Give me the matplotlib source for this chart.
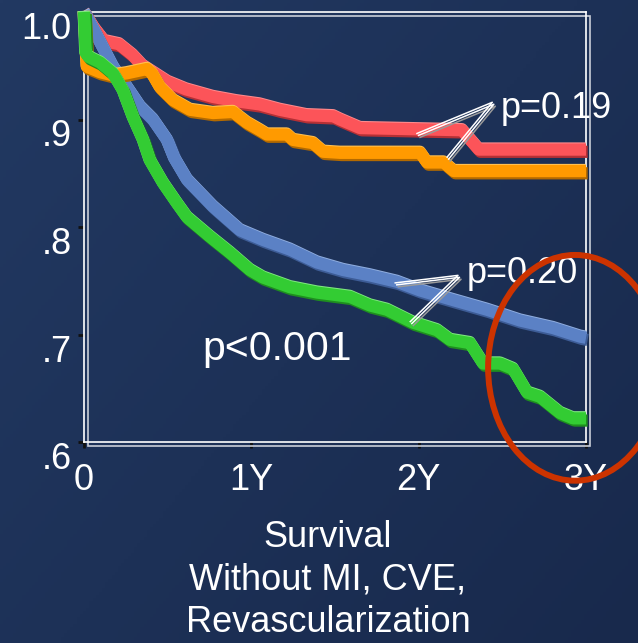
import matplotlib
matplotlib.use('Agg')
import matplotlib.pyplot as plt
import matplotlib.patheffects as pe
import matplotlib.transforms as mtrans
from matplotlib.patches import Ellipse, Rectangle
import numpy as np

plt.rcParams['font.family'] = ['Liberation Sans', 'DejaVu Sans']

# survival curves (years, fraction event free)
red_t = [0, 0.06, 0.12, 0.21, 0.29, 0.35, 0.50, 0.61, 0.77, 0.91, 1.05, 1.17, 1.33, 1.49, 1.53, 1.65, 2.26, 2.36, 3.0]
red_s = [1.0, 0.985, 0.973, 0.970, 0.960, 0.950, 0.935, 0.928, 0.921, 0.917, 0.914, 0.909, 0.904, 0.903, 0.900, 0.892, 0.890, 0.872, 0.872]

orange_t = [0, 0.018, 0.096, 0.173, 0.257, 0.377, 0.406, 0.454, 0.532, 0.634, 0.771, 0.891, 0.932, 0.974,
            1.052, 1.094, 1.213, 1.249, 1.369, 1.429, 1.53, 2.01, 2.05, 2.15, 2.21, 3.0]
orange_s = [1.0, 0.949, 0.944, 0.941, 0.943, 0.947, 0.943, 0.930, 0.918, 0.909, 0.906, 0.907, 0.902, 0.897,
            0.890, 0.886, 0.886, 0.881, 0.878, 0.870, 0.869, 0.869, 0.860, 0.860, 0.852, 0.852]

blue_t = [0, 0.066, 0.173, 0.257, 0.335, 0.412, 0.496, 0.54, 0.616, 0.771, 0.932, 1.070, 1.231, 1.393,
          1.548, 1.709, 1.871, 2.008, 2.206, 2.409, 2.606, 2.803, 2.965, 3.0]
blue_s = [1.0, 0.981, 0.949, 0.930, 0.912, 0.900, 0.881, 0.864, 0.844, 0.819, 0.797, 0.788, 0.779, 0.767,
          0.760, 0.755, 0.749, 0.741, 0.732, 0.723, 0.713, 0.706, 0.698, 0.697]

green_t = [0, 0.01, 0.03, 0.096, 0.173, 0.233, 0.293, 0.353, 0.394, 0.472, 0.556, 0.616, 0.753, 0.873, 0.992,
           1.070, 1.231, 1.393, 1.590, 1.709, 1.811, 1.967, 2.110, 2.188, 2.307, 2.385, 2.487, 2.564, 2.648,
           2.726, 2.845, 2.923, 3.0]
green_s = [1.0, 0.962, 0.958, 0.953, 0.943, 0.927, 0.902, 0.881, 0.862, 0.841, 0.822, 0.809, 0.791, 0.776, 0.760,
           0.753, 0.744, 0.739, 0.735, 0.727, 0.723, 0.711, 0.704, 0.695, 0.692, 0.673, 0.673, 0.668, 0.646,
           0.642, 0.627, 0.622, 0.622]

xticks = [0, 1, 2, 3]
xlabels = ['0', '1Y', '2Y', '3Y']
yticks = [0.6, 0.7, 0.8, 0.9, 1.0]
ylabels = ['.6', '.7', '.8', '.9', '1.0']

p19_x = [1.99, 2.44, 2.17]
p19_y = [0.887, 0.916, 0.865]
p20_x = [1.86, 2.235, 1.95]
p20_y = [0.748, 0.755, 0.712]

title_lines = ['Survival', 'Without MI, CVE,', 'Revascularization']

fig = plt.figure(figsize=(6.38, 6.43), dpi=100)

# navy slide background, slightly lighter top left
bg = fig.add_axes([0, 0, 1, 1])
bg.axis('off')
yy, xx = np.mgrid[0:1:200j, 0:1:200j]
w = np.clip(0.55 * xx + 0.45 * yy, 0, 1)
c0 = np.array([34, 57, 98]) / 255
c1 = np.array([24, 41, 76]) / 255
bg.imshow(c0 + (c1 - c0) * w[..., None], extent=[0, 1, 0, 1], aspect='auto')

ax = fig.add_axes([84 / 638, 1 - 442 / 643, 502 / 638, 430 / 643])
ax.patch.set_visible(False)
ax.set_xlim(0, 3)
ax.set_ylim(0.6, 1.0)


def curve(t, s, col, dark, light, z):
    ax.plot(t, s, color=col, lw=8.8, solid_joinstyle='round', solid_capstyle='butt',
            zorder=z, clip_on=False,
            path_effects=[pe.SimpleLineShadow(offset=(1.2, -1.6), shadow_color=dark, alpha=1),
                          pe.Stroke(offset=(-0.3, 0.8), foreground=light),
                          pe.Normal()])


curve(red_t, red_s, '#fc5459', '#b53035', '#ff8a8c', 3)
curve(blue_t, blue_s, '#5b81c5', '#3d5c96', '#90aee0', 4)
curve(orange_t, orange_s, '#ff9a00', '#b36a00', '#ffc050', 5)
curve(green_t, green_s, '#33cc33', '#1f8f1f', '#80e880', 6)

for sp in ax.spines.values():
    sp.set_color('white')
    sp.set_linewidth(1.2)
tr = mtrans.offset_copy(ax.transAxes, fig=fig, x=4, y=-4, units='dots')
ax.add_patch(Rectangle((0, 0), 1, 1, transform=tr, fill=False, ec='#c9ced8', lw=1.2, clip_on=False, zorder=2))

ax.set_xticks(xticks)
ax.set_xticklabels(xlabels)
ax.set_yticks(yticks)
ax.set_yticklabels(ylabels, va='top')
ax.tick_params(colors='#111111', length=4, width=2, labelcolor='white', labelsize=26)
ax.tick_params(axis='y', pad=5)
ax.tick_params(axis='x', pad=11)

# p-value callouts
for xs, ys in [(p19_x, p19_y), (p20_x, p20_y)]:
    ax.plot(xs, ys, color='white', lw=1.1, zorder=7, clip_on=False,
            path_effects=[pe.Stroke(offset=(2.2, -2.8), foreground='#9a9a9a'),
                          pe.Stroke(offset=(1.1, -1.4), foreground='white'),
                          pe.Normal()])
ax.text(2.49, 0.901, 'p=0.19', color='white', fontsize=26, va='baseline', zorder=7)
ax.text(2.285, 0.748, 'p=0.20', color='white', fontsize=26, va='baseline', zorder=7)
ax.text(0.71, 0.676, 'p<0.001', color='white', fontsize=29.5, va='baseline', zorder=7)

ax.add_patch(Ellipse((2.935, 0.669), 1.04, 0.210, fill=False, ec='#cc3300', lw=4.3,
                     clip_on=False, zorder=9))

for line, base in zip(title_lines, [547, 590, 632]):
    fig.text(328 / 638, 1 - base / 643, line, color='white', fontsize=26, ha='center', va='baseline')

fig.savefig('out.png', dpi=100)
